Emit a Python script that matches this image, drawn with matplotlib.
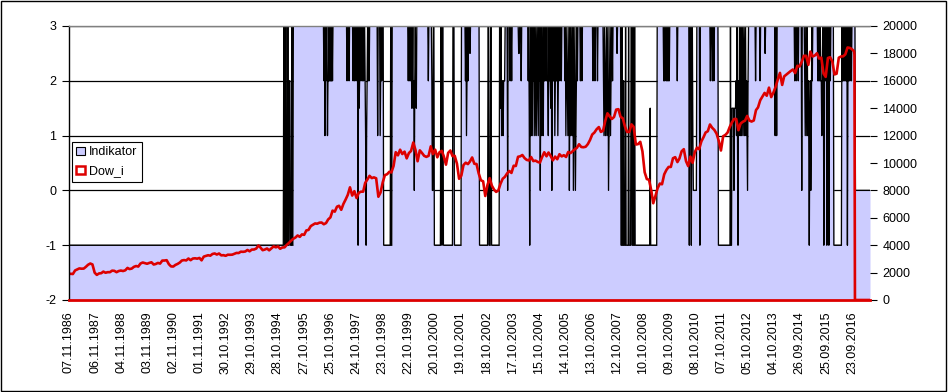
import numpy as np
import pandas as pd
import matplotlib
matplotlib.use("Agg")
import matplotlib.pyplot as plt
from matplotlib.patches import Patch, Rectangle

plt.rcParams['font.family'] = ['Liberation Sans', 'DejaVu Sans']
plt.rcParams['axes.unicode_minus'] = False

# ---------------- data ----------------
start_date = "1986-11-07"
n_categories = 1597          # weekly categories (incl. trailing zero rows)
label_step = 52
tick_labels = ["07.11.1986", "06.11.1987", "04.11.1988", "03.11.1989", "02.11.1990",
               "01.11.1991", "30.10.1992", "29.10.1993", "28.10.1994", "27.10.1995",
               "25.10.1996", "24.10.1997", "23.10.1998", "22.10.1999", "20.10.2000",
               "19.10.2001", "18.10.2002", "17.10.2003", "15.10.2004", "14.10.2005",
               "13.10.2006", "12.10.2007", "10.10.2008", "09.10.2009", "08.10.2010",
               "07.10.2011", "05.10.2012", "04.10.2013", "26.09.2014", "25.09.2015",
               "23.09.2016"]

# Indikator: (first week index, value) of each run
indikator_runs = [
    (0, -1),
    (428, 3), (430, -1), (432, 3), (433, -1), (436, 3), (437, -1), (439, 2), (441, -1), (444, 3), (445, -1), (447, 3),
    (508, 2), (509, 3), (510, 1), (511, 3), (512, 2), (513, 3), (515, 1), (516, 2), (518, 3), (519, 2), (521, 3),
    (522, 2), (524, 3), (525, 2), (526, 3),
    (554, 2), (555, 3), (558, 2), (559, 3),
    (566, 2), (567, 3), (569, 2), (570, 3), (572, 2), (573, 3), (575, 2), (576, -1), (577, 3), (578, 1.5), (579, 2),
    (580, 3), (582, 2), (583, 3), (585, 2), (586, 3), (587, 2), (588, 3), (590, 2), (591, 1), (592, -1), (593, 1),
    (594, 2), (595, 3), (596, 2), (597, 3), (598, 2), (599, 3),
    (615, 1), (616, 3), (620, 1), (621, 2), (622, 3), (623, 2), (624, 3),
    (627, -1), (641, 3), (642, -1), (644, 3),
    (676, 2), (677, 3), (679, 2), (680, 3), (681, 2), (682, 3), (683, 1.5), (684, 2), (685, 3), (686, 1.5), (687, 2),
    (688, 0), (689, 2), (690, 3), (691, 2), (692, 1.5), (693, 3),
    (716, 2), (717, 3), (723, 2), (724, 0),
    (726, 3), (728, -1), (741, 3), (743, -1), (744, 3), (746, -1), (765, 3), (768, -1), (782, 3),
    (790, 2), (791, 3), (792, 1), (793, 2), (794, 3), (795, 2), (796, 3), (799, 2.5), (800, 3),
    (818, -1), (835, 3), (837, -1), (840, 3), (842, -1), (858, 3),
    (859, 2), (860, 1.5), (861, 3), (862, 1), (863, 2), (865, 1), (866, 2), (869, 3), (874, 0), (875, 3), (879, 2),
    (880, 3), (882, 2), (883, 3), (896, 2.5), (898, 3), (901, 2), (902, 3),
    (915, 2), (916, 3), (917, 1.5), (918, -1), (919, 2), (920, 3), (921, 1), (922, 3), (923, 2), (924, 1), (925, 3),
    (926, 2), (927, 3), (928, 1), (929, 2), (930, 3), (931, 1), (932, 2), (933, 3), (934, 2), (935, 1), (936, 3),
    (937, 2), (938, 3), (939, 0), (940, 2), (941, 3), (942, 1), (943, 2), (944, 3), (945, 1), (946, 3), (947, 2),
    (949, 3), (951, 2), (952, 3), (953, 2), (955, 1), (956, 3), (957, 2), (958, 3), (959, 2), (960, 1.5), (961, 3),
    (962, 0), (963, 2), (964, 3), (965, 2), (967, 3), (968, 1), (969, 2), (970, 3), (971, 2), (973, 3), (974, 1),
    (975, 2), (976, 3), (978, 2), (979, 3), (981, 2), (982, 3),
    (988, 2), (989, 3), (990, 1), (991, 2), (992, 3), (993, 2), (994, 1), (995, 2), (996, 3), (997, 0), (998, 2),
    (999, 3), (1000, 1), (1001, 2), (1002, 3), (1003, 1), (1004, 3), (1005, 0), (1006, 1), (1007, 2), (1008, 3),
    (1009, 0), (1010, 1), (1011, 2), (1012, 3), (1013, 2), (1014, 3),
    (1019, 2), (1020, 3), (1022, 2), (1023, 3), (1044, 2), (1045, 3), (1048, 2), (1049, 3), (1053, 2), (1054, 3),
    (1065, 2), (1066, 1), (1067, 3), (1068, 2), (1069, 1), (1070, 2), (1071, 3), (1072, 1), (1073, 2), (1074, 3),
    (1075, 0), (1076, 1), (1077, 2), (1078, 3), (1079, 1), (1080, 2), (1081, 3), (1083, 2), (1084, 3), (1092, 2.5),
    (1093, 3),
    (1100, -1), (1102, 3), (1103, -1), (1105, 2), (1106, -1), (1109, 3), (1110, -1), (1115, 3), (1116, -1),
    (1120, 3), (1122, -1), (1124, 3), (1125, -1), (1127, 3), (1128, -1),
    (1158, 1.5), (1159, -1),
    (1172, 3), (1185, 2), (1186, 3), (1187, 2), (1188, 3), (1190, 2), (1191, 3), (1192, 2), (1193, 3), (1194, 2),
    (1195, 3), (1196, 2), (1197, 3), (1212, 2), (1213, 3),
    (1236, -1), (1237, 3), (1240, -1), (1241, 3), (1243, 1), (1244, 0), (1251, 3), (1257, -1), (1258, 3),
    (1278, 2), (1279, 3), (1282, 2), (1283, 3), (1285, 2), (1286, 3),
    (1294, -1), (1318, 3), (1319, -1),
    (1321, 1.5), (1325, 0), (1326, 1.5), (1329, 2), (1330, 1), (1331, 3), (1332, 1), (1333, -1), (1334, 2),
    (1335, 1), (1336, 3), (1337, 2), (1338, 1), (1339, 3), (1340, 1), (1341, 2), (1342, 3), (1343, 1), (1344, 2),
    (1345, 3), (1346, 1), (1347, 2), (1348, 3), (1349, 1), (1350, 2), (1351, 1), (1352, 0), (1353, 2), (1354, 3),
    (1368, 2), (1369, 3), (1377, 2), (1378, 3), (1387, 2.5), (1388, 3), (1407, 1), (1408, 3), (1410, 1), (1411, 3),
    (1446, 2), (1447, 3), (1449, 2), (1450, 3), (1453, 2), (1454, 3), (1460, 0), (1461, 3),
    (1466, 2), (1467, 1), (1468, 3), (1469, 2), (1470, 1), (1471, 3), (1472, 1), (1473, 2), (1474, 1), (1475, -1),
    (1476, 1), (1477, 2), (1478, 0), (1479, 1), (1480, 3), (1481, 2), (1482, 3),
    (1492, 2), (1493, 3), (1494, 2), (1495, 3), (1496, 2), (1497, 3), (1498, 2), (1500, 1), (1501, 2), (1502, 3),
    (1504, -1), (1505, 2), (1506, 3), (1507, 2), (1508, 3), (1510, -1), (1511, 2), (1512, 3), (1514, -1), (1515, 2),
    (1516, 3), (1517, 2), (1518, 3),
    (1524, -1), (1540, 3),
    (1541, 2), (1542, 3), (1543, 2), (1544, 3), (1545, 2), (1546, 3), (1547, 2), (1548, 3), (1549, 2), (1550, 3),
    (1551, -1), (1552, 2), (1553, 3), (1554, 2), (1555, 3), (1556, 2), (1557, 3), (1559, 2), (1560, 3),
    (1567, 0),
]

# Dow_i: first weekly value, month-end closes Nov 1986 .. Oct 2016, last weekly value
dow_first = 1887
dow_last_date = "2016-11-04"
dow_last = 17888
dow_monthly = [
    1914, 1896,
    2158, 2224, 2305, 2286, 2292, 2419, 2572, 2663, 2596, 1994, 1834, 1939,
    1958, 2072, 1989, 2032, 2031, 2142, 2129, 2032, 2113, 2149, 2115, 2169,
    2342, 2258, 2294, 2419, 2480, 2440, 2661, 2737, 2693, 2645, 2706, 2753,
    2591, 2627, 2707, 2657, 2877, 2881, 2905, 2614, 2453, 2442, 2560, 2634,
    2737, 2882, 2914, 2888, 3028, 2907, 3025, 3044, 3017, 3069, 2895, 3169,
    3224, 3267, 3236, 3359, 3397, 3319, 3394, 3257, 3272, 3226, 3305, 3301,
    3310, 3371, 3435, 3428, 3527, 3516, 3540, 3651, 3555, 3681, 3684, 3754,
    3978, 3832, 3636, 3682, 3758, 3625, 3765, 3913, 3843, 3908, 3739, 3834,
    3844, 4011, 4158, 4321, 4465, 4556, 4709, 4611, 4789, 4756, 5075, 5117,
    5395, 5486, 5588, 5569, 5643, 5655, 5529, 5616, 5882, 6029, 6522, 6448,
    6813, 6878, 6584, 7009, 7331, 7673, 8223, 7622, 7945, 7442, 7823, 7908,
    7907, 8546, 8800, 9063, 8900, 8952, 8883, 7539, 7843, 8592, 9117, 9181,
    9359, 9307, 9786, 10789, 10560, 10971, 10655, 10829, 10337, 10729, 10878, 11497,
    10941, 10128, 10922, 10734, 10522, 10448, 10522, 11215, 10651, 10971, 10415, 10787,
    10887, 10495, 9879, 10735, 10912, 10502, 10523, 9950, 8848, 9075, 9852, 10022,
    9920, 10106, 10404, 9946, 9925, 9243, 8737, 8664, 7592, 8397, 8896, 8342,
    8054, 7891, 7992, 8480, 8850, 8985, 9234, 9416, 9275, 9801, 9782, 10454,
    10488, 10584, 10358, 10226, 10188, 10435, 10140, 10174, 10080, 10027, 10428, 10783,
    10490, 10766, 10504, 10193, 10467, 10275, 10641, 10482, 10569, 10440, 10806, 10718,
    10865, 10993, 11109, 11367, 11168, 11150, 11186, 11381, 11679, 12081, 12222, 12463,
    12622, 12269, 12354, 13063, 13628, 13409, 13212, 13358, 13896, 13930, 13372, 13265,
    12650, 12266, 12263, 12820, 12638, 11350, 11378, 11544, 10851, 9325, 8829, 8776,
    8001, 7063, 7609, 8168, 8500, 8447, 9172, 9496, 9712, 9713, 10345, 10428,
    10067, 10325, 10857, 11009, 10137, 9774, 10466, 10015, 10788, 11118, 11006, 11578,
    11892, 12226, 12320, 12811, 12570, 12414, 12143, 11614, 10913, 11955, 12046, 12218,
    12633, 12952, 13212, 13214, 12393, 12880, 13009, 13091, 13437, 13096, 13026, 13104,
    13861, 14054, 14579, 14840, 15116, 14910, 15500, 14810, 15130, 15546, 16086, 16577,
    15699, 16322, 16458, 16581, 16717, 16827, 16563, 17098, 17043, 17391, 17828, 17823,
    17165, 18133, 17776, 17841, 18011, 17620, 17690, 16528, 16285, 17664, 17720, 17425,
    16466, 16517, 17685, 17774, 17787, 17930, 18432, 18401, 18308, 18142,
]

# ---------------- build series ----------------
idx = np.arange(n_categories)
indikator = np.empty(n_categories)
for k, (s, v) in enumerate(indikator_runs):
    e = indikator_runs[k + 1][0] if k + 1 < len(indikator_runs) else n_categories
    indikator[s:e] = v

t0 = pd.Timestamp(start_date)
month_dates = pd.date_range("1986-11-01", periods=len(dow_monthly), freq="ME")
dow_x = [0.0] + [(d - t0).days / 7 for d in month_dates] + [(pd.Timestamp(dow_last_date) - t0).days / 7]
dow_y = [dow_first] + dow_monthly + [dow_last]
last_i = int(round(dow_x[-1]))
dow_x[-1] = last_i
zero_x = list(range(last_i + 1, n_categories))
dow_x = dow_x + zero_x
dow_y = dow_y + [0] * len(zero_x)

# ---------------- figure ----------------
W, H = 948, 392
fig = plt.figure(figsize=(W / 100, H / 100), dpi=100)
fig.patch.set_facecolor("white")
L, R, T, B = 69, 870, 26, 300
ax = fig.add_axes([L / W, 1 - B / H, (R - L) / W, (B - T) / H])
ax.set_facecolor("white")

lav = "#CCCCFF"
red = "#DD0000"

ax.set_axisbelow(True)
ax.yaxis.grid(True, color="black", linewidth=0.9, zorder=0)
ax.fill_between(idx, -2, indikator, color=lav, linewidth=0, zorder=1, antialiased=False)
ax.plot(idx, indikator, color="black", linewidth=0.95, zorder=1.5)
ax.set_xlim(0, n_categories - 1)
ax.set_ylim(-2, 3)
ax.set_yticks(range(-2, 4))
ax.set_yticklabels([str(v) for v in range(-2, 4)])
ax.set_xticks(np.arange(len(tick_labels)) * label_step)
ax.set_xticklabels(tick_labels, rotation=90, va="top", ha="center")
ax.tick_params(axis="x", length=0, pad=8, labelsize=9)
ax.tick_params(axis="y", direction="out", length=5, width=0.8, pad=4, labelsize=9)
for sp in ax.spines.values():
    sp.set_visible(False)

ax2 = ax.twinx()
ax2.plot(dow_x, dow_y, color=red, linewidth=1.9, zorder=2)
ax2.set_ylim(0, 20000)
ax2.set_yticks(range(0, 20001, 2000))
ax2.set_yticklabels([str(v) for v in range(0, 20001, 2000)])
ax2.tick_params(axis="y", direction="out", length=5, width=0.8, pad=4, labelsize=9)
ax2.spines["right"].set_visible(False)
ax2.spines["top"].set_color("#808080")
ax2.spines["top"].set_linewidth(1.0)
ax2.spines["left"].set_color("black")
ax2.spines["left"].set_linewidth(1.0)
ax2.spines["bottom"].set_color(red)
ax2.spines["bottom"].set_linewidth(2.0)

handles = [Patch(facecolor=lav, edgecolor="black", linewidth=0.8),
           Patch(facecolor="white", edgecolor=red, linewidth=1.8)]
leg = ax2.legend(handles, ["Indikator", "Dow_i"], loc="upper left",
                 bbox_to_anchor=(3 / (R - L), (B - 142) / (B - T)), borderaxespad=0,
                 fancybox=False, framealpha=1, edgecolor="black", fontsize=9,
                 handlelength=0.7, handleheight=0.7, handletextpad=0.3,
                 labelspacing=0.55, borderpad=0.35)
leg.get_frame().set_linewidth(0.8)
leg.set_zorder(10)

fig.patches.append(Rectangle((0.5 / W, 1.5 / H), 945.5 / W, 389.5 / H, transform=fig.transFigure,
                             fill=False, edgecolor="black", linewidth=1.0))

fig.savefig("out.png", dpi=100)
